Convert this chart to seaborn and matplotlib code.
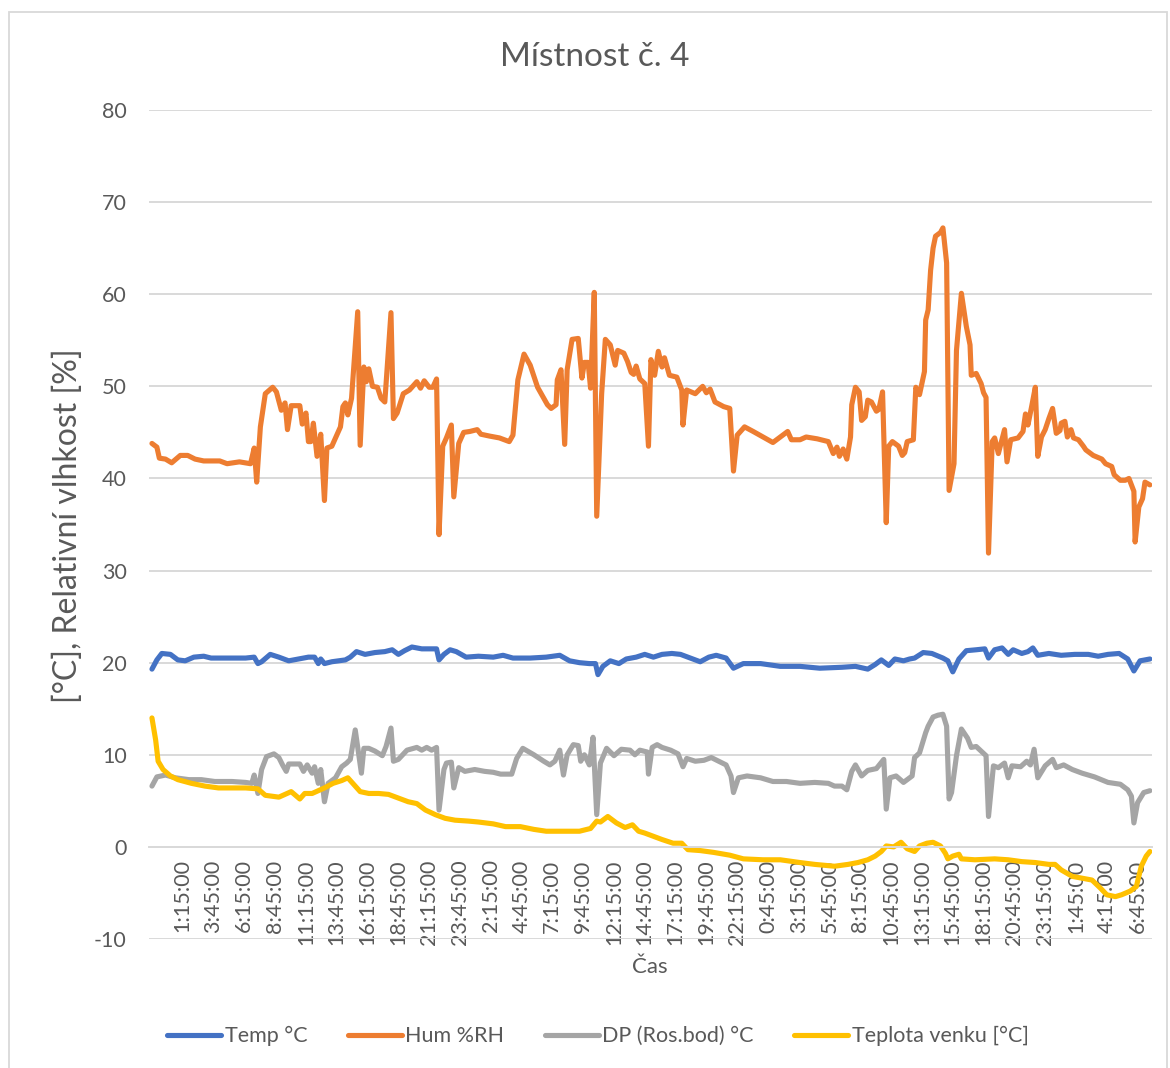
import matplotlib
matplotlib.use("Agg")
import matplotlib.pyplot as plt
from matplotlib.lines import Line2D
from matplotlib.patches import Rectangle
import numpy as np
import pandas as pd
import seaborn as sns

sns.set_theme(style="white")
plt.rcParams["font.family"] = ["Lato", "DejaVu Sans"]
plt.rcParams["axes.unicode_minus"] = False

# hours since the first reading (22:45)
temp_t = [0.0, 0.4, 0.8, 1.5, 2.1, 2.7, 3.4, 4.2, 4.8, 6.2, 7.6, 8.3, 8.6, 8.9, 9.6, 10.3, 11.1, 11.9,
          12.7, 13.2, 13.5, 13.7, 14.0, 14.6, 15.7, 16.1, 16.6, 17.3, 18.1, 18.9, 19.5, 20.0, 20.5,
          21.1, 21.9, 23.1, 23.3, 23.7, 24.2, 24.7, 25.5, 26.5, 27.7, 28.5, 29.3, 30.7, 32.0, 33.1,
          33.9, 34.7, 35.5, 36.0, 36.2, 36.6, 37.2, 37.9, 38.5, 39.3, 40.0, 40.7, 41.4, 42.2, 42.9,
          43.7, 44.5, 45.2, 45.8, 46.6, 47.2, 48.0, 49.4, 51.0, 52.6, 54.2, 56.0, 57.1, 58.1, 58.7,
          59.2, 59.8, 60.3, 61.0, 61.5, 61.9, 62.6, 63.3, 64.2, 64.6, 65.0, 65.5, 66.1, 66.9, 67.6,
          67.9, 68.4, 69.0, 69.5, 69.9, 70.6, 71.1, 71.5, 71.9, 72.8, 73.8, 74.9, 76.0, 76.8, 77.6,
          78.5, 79.2, 79.7, 80.2, 81.0]
temp_v = [19.3, 20.3, 21.0, 20.9, 20.3, 20.2, 20.6, 20.7, 20.5, 20.5, 20.5, 20.6, 19.9, 20.1, 20.9,
          20.6, 20.2, 20.4, 20.6, 20.6, 19.9, 20.4, 19.9, 20.1, 20.3, 20.6, 21.2, 20.9, 21.1, 21.2,
          21.4, 20.9, 21.3, 21.7, 21.5, 21.5, 20.3, 20.9, 21.4, 21.2, 20.6, 20.7, 20.6, 20.8, 20.5,
          20.5, 20.6, 20.8, 20.2, 20.0, 19.9, 19.9, 18.7, 19.6, 20.2, 19.9, 20.4, 20.6, 20.9, 20.6,
          20.9, 21.0, 20.9, 20.5, 20.1, 20.6, 20.8, 20.5, 19.4, 19.9, 19.9, 19.6, 19.6, 19.4, 19.5,
          19.6, 19.3, 19.8, 20.3, 19.7, 20.4, 20.2, 20.4, 20.5, 21.1, 21.0, 20.5, 20.2, 19.0, 20.4,
          21.3, 21.4, 21.5, 20.5, 21.4, 21.6, 20.9, 21.4, 21.0, 21.2, 21.6, 20.8, 21.0, 20.8, 20.9,
          20.9, 20.7, 20.9, 21.0, 20.4, 19.1, 20.2, 20.4]

hum_t = [0.0, 0.4, 0.6, 1.1, 1.6, 2.3, 2.9, 3.5, 4.2, 5.5, 6.1, 7.1, 8.0, 8.3, 8.5, 8.8, 9.2, 9.8,
         10.1, 10.5, 10.8, 11.0, 11.3, 12.0, 12.2, 12.5, 12.7, 12.9, 13.1, 13.4, 13.7, 14.0, 14.2,
         14.6, 15.0, 15.3, 15.5, 15.7, 15.9, 16.2, 16.7, 16.9, 17.2, 17.4, 17.6, 17.9, 18.3, 18.6,
         18.9, 19.4, 19.6, 19.9, 20.4, 20.9, 21.5, 21.8, 22.1, 22.5, 22.8, 23.1, 23.3, 23.6, 23.9,
         24.3, 24.5, 24.9, 25.3, 25.8, 26.4, 26.7, 27.4, 28.2, 29.0, 29.3, 29.7, 30.2, 30.7, 31.3,
         32.1, 32.4, 32.8, 32.9, 33.2, 33.5, 33.7, 34.1, 34.6, 34.9, 35.1, 35.4, 35.6, 35.9, 36.1,
         36.5, 36.8, 37.2, 37.6, 37.8, 38.3, 38.6, 38.9, 39.1, 39.3, 39.6, 40.0, 40.3, 40.5, 40.8,
         41.1, 41.4, 41.6, 42.0, 42.6, 43.0, 43.1, 43.4, 44.1, 44.7, 45.0, 45.3, 45.7, 46.4, 46.9,
         47.2, 47.5, 48.1, 48.8, 49.6, 50.4, 51.0, 51.6, 51.9, 52.6, 53.1, 54.0, 54.9, 55.3, 55.6,
         55.8, 56.1, 56.4, 56.7, 56.8, 57.1, 57.4, 57.6, 57.9, 58.1, 58.4, 58.8, 59.0, 59.3, 59.6,
         59.8, 60.1, 60.6, 60.9, 61.1, 61.3, 61.8, 62.0, 62.3, 62.7, 62.8, 63.0, 63.2, 63.4, 63.6,
         64.0, 64.2, 64.5, 64.7, 65.1, 65.3, 65.7, 66.1, 66.4, 66.5, 66.9, 67.3, 67.5, 67.7, 67.9,
         68.2, 68.4, 68.7, 69.2, 69.4, 69.7, 70.3, 70.7, 70.9, 71.1, 71.4, 71.7, 71.9, 72.2, 72.5,
         72.8, 73.1, 73.4, 73.7, 73.8, 74.1, 74.3, 74.6, 74.8, 75.2, 75.6, 75.8, 76.4, 77.1, 77.4,
         77.9, 78.1, 78.6, 79.0, 79.3, 79.7, 79.8, 80.1, 80.4, 80.6, 81.0]
hum_v = [43.8, 43.4, 42.2, 42.1, 41.7, 42.5, 42.5, 42.1, 41.9, 41.9, 41.6, 41.8, 41.6, 43.3, 39.6,
         45.6, 49.2, 49.9, 49.4, 47.4, 48.2, 45.3, 47.9, 47.9, 45.9, 47.1, 44.0, 44.0, 46.0, 42.4,
         44.8, 37.6, 43.3, 43.5, 44.7, 45.6, 47.8, 48.2, 46.9, 48.7, 58.1, 43.6, 52.1, 50.5, 51.9,
         50.0, 49.9, 48.7, 48.3, 58.0, 46.5, 47.1, 49.2, 49.6, 50.5, 49.8, 50.6, 49.9, 49.9, 50.8,
         33.9, 43.5, 44.4, 45.8, 38.0, 43.8, 45.0, 45.1, 45.3, 44.8, 44.6, 44.4, 44.0, 44.7, 50.7,
         53.5, 52.3, 49.9, 48.0, 47.6, 48.0, 50.7, 51.8, 43.7, 51.8, 55.1, 55.2, 50.9, 52.6, 52.6,
         49.8, 60.2, 35.9, 49.2, 55.1, 54.5, 52.3, 53.9, 53.6, 52.7, 51.5, 51.3, 52.2, 50.8, 50.3,
         43.5, 52.9, 51.2, 53.8, 52.1, 53.1, 51.2, 51.0, 49.6, 45.8, 49.6, 49.2, 50.0, 49.3, 49.7,
         48.3, 47.8, 47.6, 40.8, 44.7, 45.6, 45.1, 44.5, 43.9, 44.5, 45.1, 44.2, 44.2, 44.5, 44.3,
         44.0, 42.7, 43.4, 42.4, 43.2, 42.1, 44.5, 48.0, 49.9, 49.4, 46.3, 46.7, 48.5, 48.3, 47.3,
         47.5, 49.4, 35.2, 43.5, 44.0, 43.5, 42.5, 42.8, 44.0, 44.2, 49.9, 49.1, 51.6, 57.2, 58.3,
         62.6, 65.0, 66.3, 66.7, 67.2, 63.4, 38.7, 41.6, 53.9, 60.1, 56.5, 54.5, 51.2, 51.4, 50.3,
         49.3, 48.8, 31.9, 44.0, 44.4, 42.7, 45.3, 41.8, 44.2, 44.4, 45.1, 47.0, 45.8, 47.8, 49.9,
         42.4, 44.5, 45.3, 46.5, 47.6, 44.9, 45.2, 46.0, 46.2, 44.5, 45.3, 44.4, 44.2, 43.5, 43.1,
         42.5, 42.1, 41.6, 41.3, 40.4, 39.8, 39.8, 40.0, 38.6, 33.1, 36.9, 37.8, 39.6, 39.3]

dp_t = [0.0, 0.4, 1.1, 1.9, 3.0, 4.0, 5.1, 6.5, 7.6, 8.1, 8.3, 8.6, 8.9, 9.3, 9.9, 10.3, 10.6, 10.9,
        11.1, 12.0, 12.3, 12.6, 13.0, 13.2, 13.5, 13.7, 14.0, 14.3, 14.9, 15.4, 15.8, 16.1, 16.5,
        17.0, 17.2, 17.6, 18.1, 18.7, 19.0, 19.4, 19.6, 20.0, 20.7, 21.5, 21.9, 22.3, 22.7, 23.1,
        23.3, 23.7, 23.9, 24.3, 24.5, 24.9, 25.4, 26.2, 27.0, 27.7, 28.3, 29.2, 29.6, 30.1, 31.0,
        31.8, 32.3, 32.7, 33.1, 33.4, 33.7, 34.2, 34.6, 34.8, 35.1, 35.5, 35.8, 36.1, 36.4, 36.9,
        37.5, 38.1, 38.8, 39.2, 39.6, 40.2, 40.3, 40.6, 41.0, 41.4, 42.1, 42.7, 43.1, 43.4, 44.1,
        44.8, 45.4, 46.0, 46.6, 47.0, 47.2, 47.6, 48.3, 49.4, 50.4, 51.5, 52.6, 53.8, 54.9, 55.4,
        56.0, 56.4, 56.8, 57.1, 57.6, 58.1, 58.8, 59.4, 59.6, 59.9, 60.4, 61.0, 61.7, 61.9, 62.3,
        62.8, 63.0, 63.4, 63.8, 64.2, 64.5, 64.7, 64.9, 65.3, 65.7, 66.2, 66.5, 66.9, 67.3, 67.7,
        67.9, 68.3, 68.7, 69.2, 69.5, 69.8, 70.5, 71.0, 71.3, 71.6, 71.9, 72.5, 73.1, 73.4, 74.0,
        74.7, 75.5, 76.5, 77.6, 78.6, 79.2, 79.5, 79.7, 80.0, 80.5, 81.0]
dp_v = [6.6, 7.6, 7.8, 7.5, 7.3, 7.3, 7.1, 7.1, 7.0, 6.9, 7.8, 5.8, 8.4, 9.8, 10.1, 9.7, 8.9, 8.2,
        9.0, 9.0, 8.2, 8.9, 8.0, 8.7, 6.9, 8.4, 4.9, 6.9, 7.5, 8.7, 9.1, 9.5, 12.7, 8.0, 10.7, 10.7,
        10.4, 9.9, 10.9, 12.9, 9.3, 9.5, 10.5, 10.8, 10.5, 10.8, 10.5, 10.8, 4.0, 8.4, 9.1, 9.2, 6.4,
        8.6, 8.2, 8.4, 8.2, 8.1, 7.9, 7.9, 9.6, 10.7, 10.0, 9.3, 8.9, 9.3, 10.5, 7.8, 10.0, 11.1,
        11.0, 9.3, 10.0, 8.9, 11.9, 3.5, 9.1, 10.7, 9.9, 10.6, 10.5, 10.0, 10.5, 10.3, 7.9, 10.8,
        11.1, 10.8, 10.5, 10.1, 8.7, 9.6, 9.3, 9.4, 9.7, 9.3, 8.9, 7.7, 5.9, 7.5, 7.7, 7.5, 7.1, 7.1,
        6.9, 7.0, 6.9, 6.6, 6.6, 6.2, 8.2, 8.9, 7.7, 8.3, 8.5, 9.5, 4.1, 7.5, 7.7, 7.0, 7.7, 9.7,
        10.2, 12.4, 13.1, 14.1, 14.3, 14.4, 13.1, 5.2, 5.9, 9.9, 12.8, 11.8, 10.8, 10.9, 10.4, 9.9,
        3.3, 8.8, 8.6, 9.1, 7.5, 8.8, 8.7, 9.3, 8.9, 10.6, 7.5, 8.8, 9.5, 8.6, 8.9, 8.4, 8.0, 7.6,
        7.0, 6.8, 6.2, 5.5, 2.6, 4.8, 5.9, 6.1]

out_t = [0.0, 0.3, 0.5, 0.9, 1.5, 2.1, 3.2, 4.3, 5.4, 6.5, 7.6, 8.6, 9.2, 10.3, 10.8, 11.3, 12.0,
         12.4, 13.0, 13.5, 14.0, 14.7, 15.4, 15.9, 16.3, 16.9, 17.6, 18.4, 19.2, 20.0, 20.8, 21.5,
         22.2, 23.0, 23.8, 24.6, 25.7, 26.5, 27.7, 28.7, 29.9, 31.0, 32.0, 33.4, 34.7, 35.6, 36.1,
         36.4, 37.0, 37.7, 38.4, 39.0, 39.5, 40.0, 40.6, 41.4, 42.3, 43.0, 43.5, 44.5, 45.6, 46.9,
         48.0, 49.6, 51.0, 52.6, 53.8, 55.4, 56.5, 57.3, 58.1, 58.7, 59.2, 59.6, 60.2, 60.8, 61.3,
         61.9, 62.3, 62.9, 63.4, 64.0, 64.4, 64.6, 65.0, 65.5, 65.7, 66.8, 68.4, 69.5, 70.6, 71.7,
         72.8, 73.3, 73.8, 74.7, 75.5, 76.3, 77.0, 77.5, 78.2, 78.7, 79.4, 79.9, 80.3, 80.7, 81.0]
out_v = [14.0, 11.6, 9.3, 8.4, 7.7, 7.3, 6.9, 6.6, 6.4, 6.4, 6.4, 6.3, 5.6, 5.4, 5.7, 6.0, 5.2, 5.8,
         5.8, 6.1, 6.4, 6.9, 7.2, 7.5, 6.9, 6.0, 5.8, 5.8, 5.7, 5.3, 4.9, 4.7, 4.0, 3.5, 3.1, 2.9, 2.8,
         2.7, 2.5, 2.2, 2.2, 1.9, 1.7, 1.7, 1.7, 2.0, 2.8, 2.7, 3.3, 2.6, 2.1, 2.4, 1.7, 1.5, 1.2, 0.8,
         0.4, 0.4, -0.3, -0.4, -0.6, -0.9, -1.3, -1.4, -1.4, -1.7, -1.9, -2.1, -1.9, -1.7, -1.4, -1.0,
         -0.5, 0.1, 0.0, 0.5, -0.2, -0.5, 0.1, 0.4, 0.5, 0.1, -0.7, -1.3, -1.0, -0.8, -1.3, -1.4,
         -1.3, -1.4, -1.6, -1.7, -1.9, -1.9, -2.5, -3.2, -3.4, -3.6, -4.5, -5.2, -5.4, -5.2, -4.8,
         -4.3, -2.1, -1.0, -0.5]

tick_labels = ["1:15:00", "3:45:00", "6:15:00", "8:45:00", "11:15:00", "13:45:00", "16:15:00",
               "18:45:00", "21:15:00", "23:45:00", "2:15:00", "4:45:00", "7:15:00", "9:45:00",
               "12:15:00", "14:45:00", "17:15:00", "19:45:00", "22:15:00", "0:45:00", "3:15:00",
               "5:45:00", "8:15:00", "10:45:00", "13:15:00", "15:45:00", "18:15:00", "20:45:00",
               "23:15:00", "1:45:00", "4:15:00", "6:45:00"]

names = ["Temp °C", "Hum %RH", "DP (Ros.bod) °C", "Teplota venku [°C]"]
colors = ["#4472C4", "#ED7D31", "#A5A5A5", "#FFC000"]
text_c = "#595959"
grid_c = "#d9d9d9"

frames = []
for name, t, v in zip(names, [temp_t, hum_t, dp_t, out_t], [temp_v, hum_v, dp_v, out_v]):
    frames.append(pd.DataFrame({"t": t, "value": v, "series": name}))
df = pd.concat(frames, ignore_index=True)

W, H = 1170, 1068
fig = plt.figure(figsize=(W / 100, H / 100), dpi=100)
ax = fig.add_axes([149 / W, 1 - 939 / H, 1003 / W, 829 / H])

sns.lineplot(data=df, x="t", y="value", hue="series", hue_order=names,
             palette=dict(zip(names, colors)), estimator=None, sort=False,
             linewidth=3.7, legend=False, ax=ax,
             solid_joinstyle="round", solid_capstyle="round")

ax.set_xlim(-0.24, 81.17)
ax.set_ylim(-10, 80)
ax.set_yticks(range(-10, 81, 10))
ax.set_xticks(np.arange(1, len(tick_labels) + 1) * 2.5)
ax.set_xticklabels(tick_labels)
ax.set_xlabel("")
ax.set_ylabel("")

ax.grid(axis="y", color=grid_c, linewidth=1.4)
ax.grid(axis="x", visible=False)
for side in ["top", "right", "left"]:
    ax.spines[side].set_visible(False)
ax.spines["bottom"].set_position(("data", 0))
ax.spines["bottom"].set_color(grid_c)
ax.spines["bottom"].set_linewidth(1.4)
ax.set_axisbelow(True)

ax.tick_params(axis="x", length=0, pad=9, labelsize=15.5, labelcolor=text_c, labelrotation=90)
ax.tick_params(axis="y", length=0, pad=16, labelsize=15.5, labelcolor=text_c)

fig.text(595 / W, 1 - 57 / H, "Místnost č. 4", ha="center", va="center", fontsize=24, color=text_c)
fig.text(68 / W, 1 - 526 / H, "[°C], Relativní vlhkost [%]", ha="center", va="center",
         rotation=90, fontsize=23, color=text_c)
fig.text(650 / W, 1 - 967 / H, "Čas", ha="center", va="center", fontsize=16, color=text_c)

handles = [Line2D([0], [0], color=c, linewidth=3.7, solid_capstyle="round") for c in colors]
fig.legend(handles, names, loc="center", bbox_to_anchor=(598 / W, 1 - 1036 / H), ncol=4,
           frameon=False, fontsize=15.5, handlelength=2.5, handletextpad=0.15,
           columnspacing=1.9, labelcolor=text_c)

fig.patches.append(Rectangle((9 / W, -0.01), (1167 - 9) / W, 1.01 - 12 / H, transform=fig.transFigure,
                             fill=False, edgecolor=grid_c, linewidth=1.3))

fig.savefig("out.png", dpi=100)
